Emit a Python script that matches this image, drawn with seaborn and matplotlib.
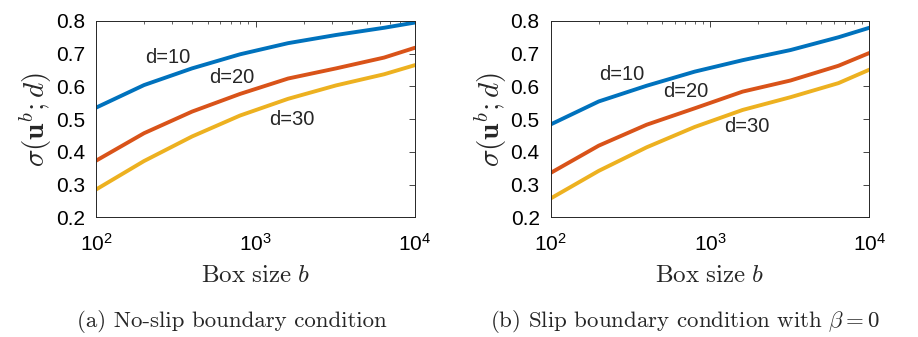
import numpy as np
import pandas as pd
import seaborn as sns
import matplotlib.pyplot as plt
from matplotlib.ticker import LogLocator, NullFormatter

# box sizes b
box_size = [100, 200, 400, 800, 1600, 3200, 6400, 10000]
dims = ["d=10", "d=20", "d=30"]

# (a) no-slip
noslip_d10 = [0.535, 0.604, 0.655, 0.698, 0.732, 0.757, 0.779, 0.795]
noslip_d20 = [0.373, 0.457, 0.523, 0.577, 0.624, 0.655, 0.688, 0.718]
noslip_d30 = [0.285, 0.372, 0.447, 0.511, 0.562, 0.603, 0.637, 0.665]

# (b) slip, beta = 0
slip_d10 = [0.484, 0.554, 0.602, 0.645, 0.680, 0.711, 0.750, 0.779]
slip_d20 = [0.336, 0.419, 0.483, 0.533, 0.584, 0.618, 0.663, 0.702]
slip_d30 = [0.258, 0.342, 0.414, 0.476, 0.528, 0.567, 0.610, 0.651]

# label positions (x, y) in data coords
labels_a = [(283, 0.689), (713, 0.627), (1694, 0.500)]
labels_b = [(279, 0.637), (703, 0.583), (1698, 0.476)]

captions = ["(a) No-slip boundary condition",
            r"(b) Slip boundary condition with $\beta = 0$"]

colors = ["#0072BD", "#D95319", "#EDB120"]

sns.set_style("white")
plt.rcParams["font.family"] = ["Liberation Sans", "DejaVu Sans"]
plt.rcParams["mathtext.fontset"] = "cm"


def long_df(series):
    rows = []
    for name, vals in zip(dims, series):
        for b, v in zip(box_size, vals):
            rows.append({"b": b, "sigma": v, "d": name})
    return pd.DataFrame(rows)


fig = plt.figure(figsize=(9.18, 3.37), dpi=100)
ax1 = fig.add_axes([0.1046, 0.355, 0.3475, 0.583])
ax2 = fig.add_axes([0.600, 0.355, 0.347, 0.583])

panels = [
    (ax1, [noslip_d10, noslip_d20, noslip_d30], labels_a),
    (ax2, [slip_d10, slip_d20, slip_d30], labels_b),
]

for ax, series, lab in panels:
    df = long_df(series)
    sns.lineplot(data=df, x="b", y="sigma", hue="d", palette=colors,
                 linewidth=2.8, legend=False, ax=ax)
    ax.set_xscale("log")
    ax.set_xlim(100, 10000)
    ax.set_ylim(0.2, 0.8)
    ax.set_yticks([0.2, 0.3, 0.4, 0.5, 0.6, 0.7, 0.8])
    ax.set_yticklabels(["0.2", "0.3", "0.4", "0.5", "0.6", "0.7", "0.8"])
    ax.xaxis.set_minor_locator(LogLocator(base=10, subs=np.arange(2, 10)))
    ax.xaxis.set_minor_formatter(NullFormatter())
    ax.tick_params(which="both", direction="in", top=True, right=True,
                   colors="#262626", labelcolor="black", labelsize=15)
    ax.tick_params(which="major", length=4, width=0.6)
    ax.tick_params(which="minor", length=2, width=0.5)
    ax.tick_params(axis="x", pad=11)
    ax.tick_params(axis="y", pad=8)
    for sp in ax.spines.values():
        sp.set_color("#262626")
        sp.set_linewidth(0.7)
    ax.set_xlabel(r"$\mathrm{Box\ size}\ b$", fontsize=18, labelpad=6)
    ax.set_ylabel(r"$\sigma(\mathbf{u}^b;d)$", fontsize=21, labelpad=1)
    for name, (x, y) in zip(dims, lab):
        ax.text(x, y, name, fontsize=14.5, ha="center", va="center")

fig.text(0.2524, 0.045, captions[0], fontsize=16.5, family="cmr10",
         ha="center", va="center")
fig.text(0.7467, 0.045, captions[1], fontsize=16.5, family="cmr10",
         ha="center", va="center")

fig.savefig("out.png", dpi=100)
